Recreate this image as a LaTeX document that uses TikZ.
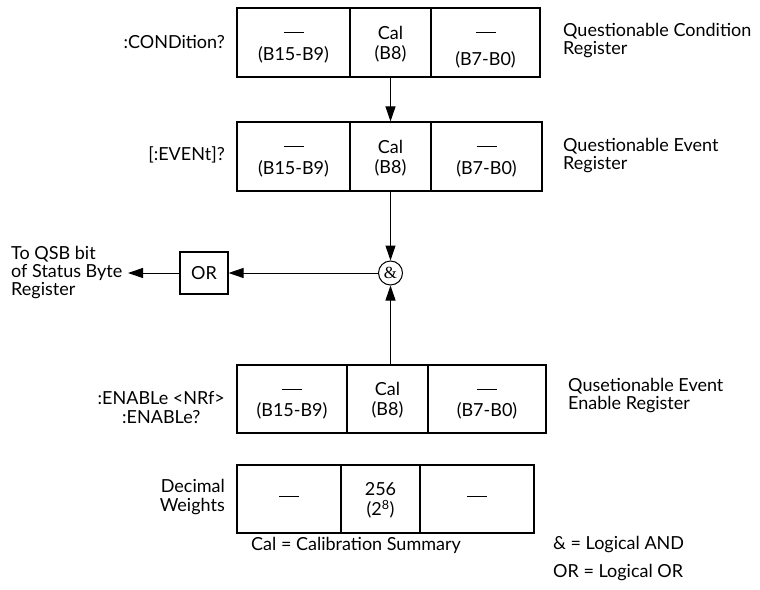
\documentclass[tikz,border=0pt]{standalone}
\usepackage{fontspec}
\setmainfont{Lato}
\newfontfamily\ampfont{Liberation Serif}
\usetikzlibrary{arrows.meta}
\newcommand\regdash{\rule[5pt]{20pt}{0.9pt}}
\newcommand\regcell[3][2pt]{\begin{tabular}{@{}c@{}}\rule{0pt}{19pt}#2\\[#1]#3\end{tabular}}
\tikzset{
  cell/.style={draw, line width=1.1pt, inner sep=0pt,
    font=\fontsize{18}{20}\selectfont},
  lbl/.style={inner sep=0pt, font=\fontsize{18}{18}\selectfont},
  sig/.style={line width=1pt, -{Triangle[length=15pt,width=10pt]}}
}
\begin{document}
\begin{tikzpicture}[x=1pt,y=-1pt]
      \useasboundingbox (0,0) rectangle (760,589);
      % condition register
      \node[cell, minimum width=113, minimum height=69] (cond1) at (293.5,42.5) {\regcell{\regdash}{(B15-B9)}};
      \node[cell, minimum width=81, minimum height=69] (cond2) at (390.5,42.5) {\regcell[0pt]{Cal}{(B8)}};
      \node[cell, minimum width=109, minimum height=69] (cond3) at (485.5,42.5) {\regcell[7pt]{\rule{0pt}{24pt}\regdash}{(B7-B0)}};
      % event register
      \node[cell, minimum width=113, minimum height=69] (evt1) at (293.5,156.5) {\regcell{\regdash}{(B15-B9)}};
      \node[cell, minimum width=81, minimum height=69] (evt2) at (390.5,156.5) {\regcell[0pt]{Cal}{(B8)}};
      \node[cell, minimum width=111, minimum height=69] (evt3) at (486.5,156.5) {\regcell{\regdash}{(B7-B0)}};
      % enable register
      \node[cell, minimum width=110, minimum height=68] (en1) at (292,399) {\regcell{\regdash}{(B15-B9)}};
      \node[cell, minimum width=81, minimum height=68] (en2) at (387.5,399) {\regcell[0pt]{Cal}{(B8)}};
      \node[cell, minimum width=118, minimum height=68] (en3) at (487,399) {\regcell{\regdash}{(B7-B0)}};
      % decimal weights
      \node[cell, minimum width=104, minimum height=68] (wt1) at (289,499) {\regdash};
      \node[cell, minimum width=79, minimum height=68] (wt2) at (380.5,499) {\regcell[-1pt]{256}{(2\textsuperscript{8})}};
      \node[cell, minimum width=114, minimum height=68] (wt3) at (477,499) {\regdash};
      % logic
      \node[draw, circle, line width=1pt, minimum size=24, inner sep=0pt,
        font=\ampfont\fontsize{17}{17}\selectfont] (and) at (390.5,273) {\&};
      \node[draw, line width=1.1pt, minimum width=48, minimum height=42,
        font=\fontsize{18}{18}\selectfont] (or) at (204,273) {OR};
      \coordinate (qsbend) at (128,273);
      % labels
      \node[lbl, anchor=east] (condcmd) at (225,42) {:CONDition?};
      \node[lbl, anchor=east] (evtcmd) at (225,155) {[:EVENt]?};
      \node[lbl, anchor=east, align=center] (encmd) at (225,407.5) {:ENABLe <NRf>\\[1pt]:ENABLe?};
      \node[lbl, anchor=east, align=right] (wtlbl) at (225,497.5) {Decimal\\[1pt]Weights};
      \node[lbl, anchor=west, align=left] (condname) at (563,41) {Questionable Condition\\Register};
      \node[lbl, anchor=west, align=left] (evtname) at (563,156) {Questionable Event\\Register};
      \node[lbl, anchor=west, align=left] (enname) at (568,396) {Qusetionable Event\\Enable Register};
      \node[lbl, anchor=west, align=left] (qsb) at (11,273) {To QSB bit\\of Status Byte\\Register};
      \node[lbl, anchor=west] (calkey) at (251,545) {Cal = Calibration Summary};
      \node[lbl, anchor=west, align=left] (logickey) at (553,559) {\& = Logical AND\\[10pt]OR = Logical OR};
      % signal flow
      \begin{scope}[sig]
        \draw (cond2.south) -- (evt2.north);
        \draw (evt2.south) -- (and.north);
        \draw (and.south |- en2.north) -- (and.south);
        \draw (and.west) -- (or.east);
        \draw (or.west) -- (qsbend);
      \end{scope}
    \end{tikzpicture}
\end{document}
